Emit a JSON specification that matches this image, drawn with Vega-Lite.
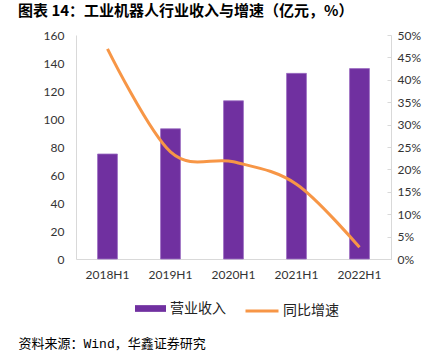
{
  "$schema": "https://vega.github.io/schema/vega-lite/v6.json",
  "width": 439,
  "height": 360,
  "autosize": {"type": "fit", "contains": "padding"},
  "padding": {"left": 18, "top": 4, "right": 18, "bottom": 10},
  "background": "white",
  "title": {
    "text": "图表 14：工业机器人行业收入与增速（亿元，%）",
    "anchor": "start",
    "frame": "bounds",
    "font": "Noto Sans CJK SC",
    "fontSize": 15,
    "fontWeight": "bold",
    "color": "#000000",
    "offset": 10
  },
  "config": {
    "view": {"stroke": null},
    "axis": {
      "labelFont": "Lato",
      "labelFontSize": 12,
      "labelColor": "#333333",
      "domainColor": "#D9D9D9",
      "grid": false,
      "ticks": false
    }
  },
  "data": {
    "values": [
      {"period": "2018H1", "revenue": 75, "growth": 0.469},
      {"period": "2019H1", "revenue": 93, "growth": 0.239},
      {"period": "2020H1", "revenue": 113, "growth": 0.217},
      {"period": "2021H1", "revenue": 132.6, "growth": 0.167},
      {"period": "2022H1", "revenue": 136, "growth": 0.026}
    ]
  },
  "encoding": {
    "x": {
      "field": "period",
      "type": "nominal",
      "sort": null,
      "scale": {"paddingInner": 0, "paddingOuter": 0},
      "axis": {
        "labelAngle": 0,
        "labelPadding": 10,
        "title": "资料来源：Wind，华鑫证券研究",
        "titleFont": "Liberation Mono, Noto Sans CJK SC",
        "titleFontSize": 13,
        "titleFontWeight": "normal",
        "titleColor": "#000000",
        "titleAnchor": "start",
        "titleAlign": "left",
        "titleBaseline": "middle",
        "titleX": -58,
        "titleY": 84
      }
    }
  },
  "layer": [
    {
      "mark": {"type": "bar", "width": {"band": 0.315}, "stroke": "#9A6CC2", "strokeWidth": 0.8},
      "encoding": {
        "y": {
          "field": "revenue",
          "type": "quantitative",
          "scale": {"domain": [0, 160], "nice": false},
          "axis": {"values": [0, 20, 40, 60, 80, 100, 120, 140, 160], "title": null, "labelPadding": 12}
        },
        "fill": {
          "datum": "营业收入",
          "type": "nominal",
          "scale": {"range": ["#7030A0"]},
          "legend": {
            "orient": "none",
            "legendX": 59,
            "legendY": 258,
            "title": null,
            "padding": 0,
            "symbolType": "M-1,-0.2167H1V0.2167H-1Z",
            "symbolSize": 961,
            "symbolStrokeWidth": 0,
            "labelFont": "Noto Sans CJK SC",
            "labelFontSize": 14,
            "labelColor": "#222222",
            "labelOffset": 4
          }
        }
      }
    },
    {
      "mark": {"type": "line", "interpolate": "cardinal", "strokeWidth": 3, "strokeCap": "butt"},
      "encoding": {
        "y": {
          "field": "growth",
          "type": "quantitative",
          "scale": {"domain": [0, 0.5], "nice": false},
          "axis": {
            "orient": "right",
            "values": [0, 0.05, 0.1, 0.15, 0.2, 0.25, 0.3, 0.35, 0.4, 0.45, 0.5],
            "format": ".0%",
            "title": null,
            "ticks": true,
            "tickSize": -4,
            "tickColor": "#D9D9D9",
            "labelPadding": 10
          }
        },
        "stroke": {
          "datum": "同比增速",
          "type": "nominal",
          "scale": {"range": ["#F79646"]},
          "legend": {
            "orient": "none",
            "legendX": 168,
            "legendY": 258,
            "title": null,
            "padding": 0,
            "symbolType": "stroke",
            "symbolSize": 1089,
            "symbolStrokeWidth": 3,
            "labelFont": "Noto Sans CJK SC",
            "labelFontSize": 14,
            "labelColor": "#222222",
            "labelOffset": 3
          }
        }
      }
    }
  ],
  "resolve": {"scale": {"y": "independent", "fill": "independent", "stroke": "independent"}}
}
